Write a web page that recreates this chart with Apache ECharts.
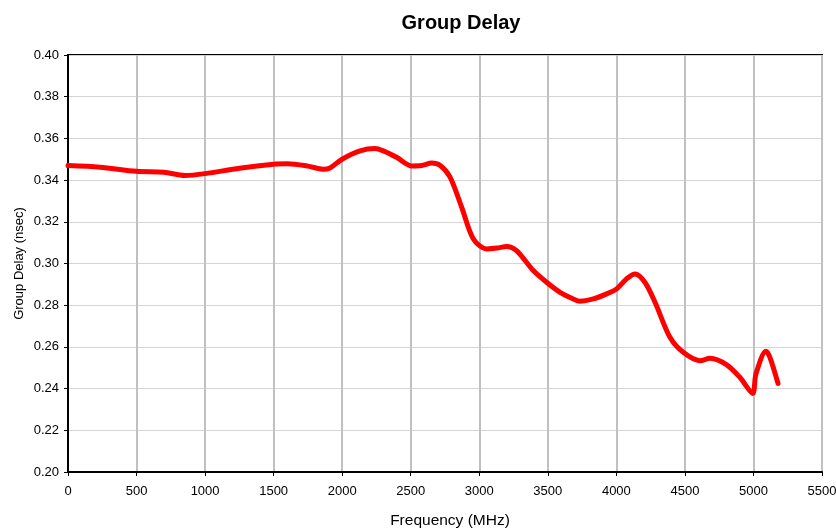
<!DOCTYPE html>
<html>
<head>
<meta charset="utf-8">
<script src="https://cdn.jsdelivr.net/npm/echarts@6/dist/echarts.min.js"></script>
<style>html,body{margin:0;padding:0;background:#fff}#c{width:836px;height:531px}</style>
</head>
<body>
<div id="c"></div>
<script>
const freq = [0, 233, 500, 700, 853, 1000, 1250, 1500, 1600, 1750, 1862, 1911, 1996, 2130, 2239, 2300, 2400, 2507, 2580, 2653, 2713, 2786, 2871, 2956, 3053, 3130, 3199, 3272, 3394, 3491, 3589, 3686, 3734, 3831, 3920, 4001, 4074, 4136, 4208, 4282, 4391, 4488, 4610, 4683, 4805, 4902, 4994, 5018, 5091, 5120, 5179];
const delay = [0.347, 0.3462, 0.3442, 0.3438, 0.3422, 0.3431, 0.3457, 0.3476, 0.3478, 0.3467, 0.3452, 0.3458, 0.3499, 0.354, 0.3551, 0.354, 0.3508, 0.3468, 0.3470, 0.3482, 0.3471, 0.3415, 0.3271, 0.3119, 0.307, 0.3074, 0.3082, 0.3062, 0.2966, 0.291, 0.2862, 0.2830, 0.2819, 0.2830, 0.2852, 0.2878, 0.2926, 0.295, 0.291, 0.2814, 0.2646, 0.2574, 0.2534, 0.2545, 0.2514, 0.2453, 0.2377, 0.247, 0.2579, 0.255, 0.2425];
const xTicks = [0, 500, 1000, 1500, 2000, 2500, 3000, 3500, 4000, 4500, 5000, 5500];
const yTicks = [0.20, 0.22, 0.24, 0.26, 0.28, 0.30, 0.32, 0.34, 0.36, 0.38, 0.40];

const chart = echarts.init(document.getElementById('c'));
const font = 'Liberation Sans, Arial, sans-serif';
chart.setOption({
  animation: false,
  title: {
    text: 'Group Delay', left: 456, top: 8, textAlign: 'center',
    textStyle: {fontFamily: font, fontSize: 20, fontWeight: 'bold', color: '#000'}
  },
  grid: {left: 68, right: 14, top: 55, bottom: 59, show: true, borderColor: '#000', borderWidth: 2,
         containLabel: false, outerBoundsMode: 'none'},
  xAxis: {
    type: 'value', min: xTicks[0], max: xTicks[xTicks.length - 1], interval: 500,
    name: 'Frequency (MHz)', nameLocation: 'middle', nameGap: 41,
    nameTextStyle: {fontFamily: font, fontSize: 15.5, color: '#000', padding: [0, 0, 0, 10]},
    axisLine: {show: true, lineStyle: {color: '#000', width: 2}},
    axisTick: {show: true, inside: false, length: 4, lineStyle: {color: '#000', width: 1}},
    axisLabel: {fontFamily: font, fontSize: 13, color: '#000', margin: 13, formatter: v => String(v)},
    splitLine: {show: true, lineStyle: {color: '#c0c0c0', width: 2}}
  },
  yAxis: {
    type: 'value', min: yTicks[0], max: yTicks[yTicks.length - 1], interval: 0.02,
    name: 'Group Delay (nsec)', nameLocation: 'middle', nameGap: 42, nameMoveOverlap: false,
    nameTextStyle: {fontFamily: font, fontSize: 13, color: '#000'},
    axisLine: {show: true, lineStyle: {color: '#000', width: 2}},
    axisTick: {show: true, inside: false, length: 4, lineStyle: {color: '#000', width: 1}},
    axisLabel: {fontFamily: font, fontSize: 13, color: '#000', margin: 9, formatter: v => v.toFixed(2)},
    splitLine: {show: true, lineStyle: {color: '#d4d4d4', width: 1}}
  },
  series: [{
    type: 'line', data: freq.map((f, i) => [f, delay[i]]),
    smooth: 0.3, showSymbol: false, symbol: 'none',
    lineStyle: {color: '#ff0000', width: 5, cap: 'round', join: 'round'}
  }]
});
</script>
</body>
</html>
